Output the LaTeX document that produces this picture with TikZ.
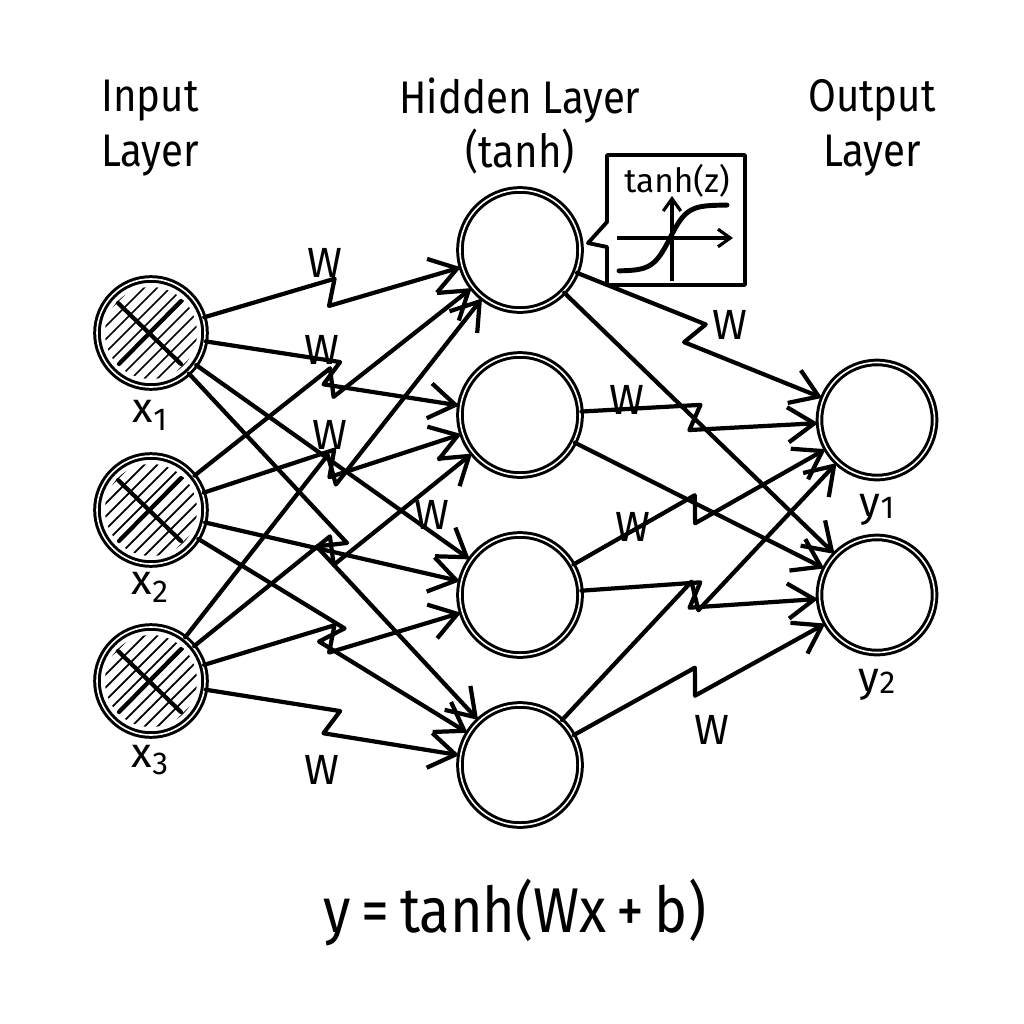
\documentclass[tikz,border=0pt]{standalone}
\usepackage{fontspec}
\setmainfont{Fira Sans}
\newfontfamily\narrowfont[FakeStretch=0.88]{Fira Sans}
\usetikzlibrary{calc,arrows.meta}
\begin{document}
\begin{tikzpicture}[x=0.01cm,y=-0.01cm,
  neuron/.style={circle,draw,line width=0.85pt,double,double distance=0.45pt,inner sep=0pt},
  inp/.style={neuron,minimum size=1.08cm},
  hid/.style={neuron,minimum size=1.2cm},
  outn/.style={neuron,minimum size=1.15cm},
  edge/.style={line width=1.2pt,line join=round,line cap=round,-{Straight Barb[length=7.5pt,width=10pt,line width=1.2pt]}},
  zz/.style={to path={-- ($(\tikztostart)!0.505!(\tikztotarget)!3.6pt!90:(\tikztotarget)$) -- ($(\tikztostart)!0.475!(\tikztotarget)!3.6pt!-90:(\tikztotarget)$) -- (\tikztotarget) \tikztonodes}},
  wlab/.style={font=\fontsize{12}{14}\selectfont},
  ttl/.style={font=\narrowfont\fontsize{13}{15.6}\selectfont, align=center},
  vlab/.style={font=\fontsize{12}{14}\selectfont},
]
\useasboundingbox (0,0) rectangle (1024,1024);
\fill[white] (0,0) rectangle (1024,1024);

% titles
\node[ttl] (tin) at (150,128) {Input\\Layer};
\node[ttl] (thid) at (520,126) {Hidden Layer\\(tanh)};
\node[ttl] (tout) at (872,128) {Output\\Layer};

% nodes
\node[inp] (x1) at (151,333) {};
\node[inp] (x2) at (151,510) {};
\node[inp] (x3) at (151,681) {};
\node[hid] (h1) at (520,250) {};
\node[hid] (h2) at (520,415) {};
\node[hid] (h3) at (520,595) {};
\node[hid] (h4) at (520,765) {};
\node[outn] (o1) at (877,420) {};
\node[outn] (o2) at (877,595) {};

% hatching
\foreach \n in {x1,x2,x3}{
  \begin{scope}
    \clip (\n.center) circle[radius=0.46cm];
    \foreach \k in {-7,...,7}
      \draw[line width=0.5pt] ($(\n.center)+(\k*6.5-50,\k*6.5+50)$) -- ($(\n.center)+(\k*6.5+50,\k*6.5-50)$);
  \end{scope}
  \draw[line width=1.2pt,line cap=round] ($(\n.center)+(-33,-30)$) -- ($(\n.center)+(30,31)$);
  \draw[line width=1.2pt,line cap=round] ($(\n.center)+(-32,31)$) -- ($(\n.center)+(30,-32)$);
}

% labels
\node[vlab] (lx1) at (150,415) {x\raisebox{-0.35ex}{\fontsize{9}{10}\selectfont 1}};
\node[vlab] (lx2) at (150,587) {x\raisebox{-0.35ex}{\fontsize{9}{10}\selectfont 2}};
\node[vlab] (lx3) at (150,760) {x\raisebox{-0.35ex}{\fontsize{9}{10}\selectfont 3}};
\node[vlab] (ly1) at (877,510) {y\raisebox{-0.1ex}{\fontsize{9}{10}\selectfont 1}};
\node[vlab] (ly2) at (877,685) {y\raisebox{-0.1ex}{\fontsize{9}{10}\selectfont 2}};

% input -> hidden
\draw[edge] (x1) to[zz] (h1);
\draw[edge] (x1) to[zz] (h2);
\draw[edge] (x1) to (h3);
\draw[edge] (x1) to[zz] (h4);
\draw[edge] (x2) to[zz] (h1);
\draw[edge] (x2) to[zz] (h2);
\draw[edge] (x2) to (h3);
\draw[edge] (x2) to[zz] (h4);
\draw[edge] (x3) to[zz] (h1);
\draw[edge] (x3) to[zz] (h2);
\draw[edge] (x3) to[zz] (h3);
\draw[edge] (x3) to[zz] (h4);

% hidden -> output
\draw[edge] (h1) to[zz] (o1);
\draw[edge] (h1) to (o2);
\draw[edge] (h2) to[zz] (o1);
\draw[edge] (h2) to (o2);
\draw[edge] (h3) to[zz] (o1);
\draw[edge] (h3) to[zz] (o2);
\draw[edge] (h4) to[zz] (o1);
\draw[edge] (h4) to[zz] (o2);

% W labels
\node[wlab] (w1) at (325,263) {W};
\node[wlab] (w2) at (322,350) {W};
\node[wlab] (w3) at (330,435) {W};
\node[wlab] (w4) at (432,515) {W};
\node[wlab] (w5) at (322,770) {W};
\node[wlab] (w6) at (730,325) {W};
\node[wlab] (w7) at (627,400) {W};
\node[wlab] (w8) at (633,527) {W};
\node[wlab] (w9) at (712,730) {W};

% tanh inset
\draw[line width=1.1pt,line join=round,fill=white] (607,155) -- (745,155) -- (745,285) -- (607,285) -- (607,247) -- (588,243) -- (607,222) -- cycle;
\node[font=\fontsize{9.5}{11}\selectfont] (tz) at (677,181) {tanh(z)};
\draw[line width=0.9pt,-{Straight Barb[length=3.5pt,width=5pt,line width=0.9pt]}] (617,238) -- (733,238);
\draw[line width=0.9pt,-{Straight Barb[length=3.5pt,width=5pt,line width=0.9pt]}] (672,281) -- (672,196);
\draw[line width=1.4pt,line cap=round] plot[domain=619:727,samples=80] (\x,{238-33*tanh((\x-670)/17)});

% formula
\node[font=\narrowfont\fontsize{18}{22}\selectfont] (eq) at (515,912) {y\,=\,tanh(Wx\,+\,b)};
\end{tikzpicture}
\end{document}
